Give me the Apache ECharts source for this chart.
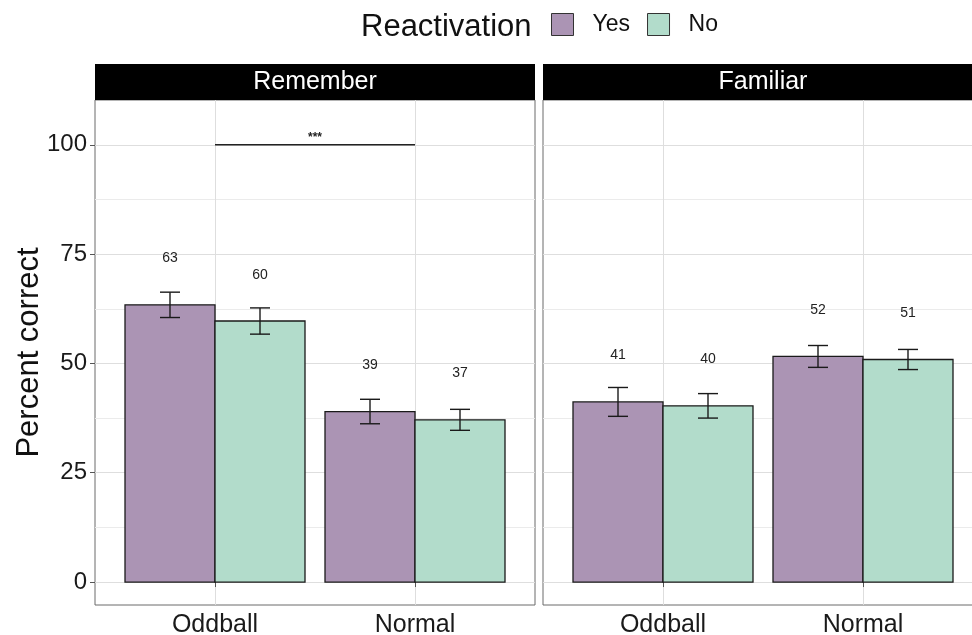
<!DOCTYPE html>
<html>
<head>
<meta charset="utf-8">
<script src="https://cdn.jsdelivr.net/npm/echarts@6/dist/echarts.min.js"></script>
<style>
  html, body { margin: 0; padding: 0; background: #ffffff; }
  #chart { width: 972px; height: 635px; }
</style>
</head>
<body>
<div id="chart"></div>
<script>
// Facets, conditions and reactivation groups
const panels = ['Remember', 'Familiar'];
const conditions = ['Oddball', 'Normal'];
const groups = ['Yes', 'No'];

// Mean percent correct per condition (Oddball, Normal)
const rememberYes = [63.4, 39.0];
const rememberNo = [59.7, 37.1];
const familiarYes = [41.2, 51.6];
const familiarNo = [40.3, 50.9];

// Standard errors of the means
const rememberYesSE = [2.9, 2.8];
const rememberNoSE = [3.0, 2.4];
const familiarYesSE = [3.3, 2.5];
const familiarNoSE = [2.8, 2.3];

// Axis ticks
const yTicks = [0, 25, 50, 75, 100];
const yMinorTicks = [12.5, 37.5, 62.5, 87.5];

// Significance bracket in the Remember panel
const sigPair = ['Oddball', 'Normal'];
const sigLevel = 100;
const sigText = '***';

const FONT = '"Liberation Sans", Arial, Helvetica, sans-serif';
const colors = { Yes: '#ab94b4', No: '#b2dccb' };
const panelData = [
  { Yes: rememberYes, No: rememberNo, YesSE: rememberYesSE, NoSE: rememberNoSE },
  { Yes: familiarYes, No: familiarNo, YesSE: familiarYesSE, NoSE: familiarNoSE }
];
const BAR_W = 0.45;      // width of one dodged bar, in category units
const CAP = 0.05;        // half width of error bar caps
const LABEL_LIFT = 10.6; // value labels sit above each mean

const PANEL_TOP = 100, PANEL_H = 505, PANEL_W = 440;
const panelLeft = [95, 543];

function barSeries(p, group, gi) {
  const means = panelData[p][group];
  const ses = panelData[p][group + 'SE'];
  const dodge = (gi - 0.5) * BAR_W;
  return {
    type: 'custom',
    name: group,
    xAxisIndex: p,
    yAxisIndex: p * 2,
    itemStyle: { color: colors[group] },
    data: conditions.map((c, i) => [i + 1, means[i], ses[i]]),
    renderItem(params, api) {
      const x = api.value(0) + dodge;
      const v = api.value(1);
      const se = api.value(2);
      const tl = api.coord([x - BAR_W / 2, v]);
      const br = api.coord([x + BAR_W / 2, 0]);
      const up = api.coord([x, v + se]);
      const lo = api.coord([x, v - se]);
      const capL = api.coord([x - CAP, v])[0];
      const capR = api.coord([x + CAP, v])[0];
      const lab = api.coord([x, v + LABEL_LIFT]);
      const err = { stroke: '#1a1a1a', lineWidth: 1.4 };
      return {
        type: 'group',
        children: [
          { type: 'rect', shape: { x: tl[0], y: tl[1], width: br[0] - tl[0], height: br[1] - tl[1] },
            style: { fill: colors[group], stroke: '#1a1a1a', lineWidth: 1.3 } },
          { type: 'line', shape: { x1: up[0], y1: up[1], x2: lo[0], y2: lo[1] }, style: err },
          { type: 'line', shape: { x1: capL, y1: up[1], x2: capR, y2: up[1] }, style: err },
          { type: 'line', shape: { x1: capL, y1: lo[1], x2: capR, y2: lo[1] }, style: err },
          { type: 'text', style: { x: lab[0], y: lab[1], text: String(Math.round(v)), fill: '#222',
              font: '14px ' + FONT, align: 'center', verticalAlign: 'middle' } }
        ]
      };
    }
  };
}

const series = [];
panels.forEach((name, p) => groups.forEach((g, gi) => series.push(barSeries(p, g, gi))));

// Bracket with stars between the two Remember conditions
series.push({
  type: 'custom',
  xAxisIndex: 0,
  yAxisIndex: 0,
  silent: true,
  data: [[conditions.indexOf(sigPair[0]) + 1, conditions.indexOf(sigPair[1]) + 1, sigLevel]],
  renderItem(params, api) {
    const a = api.coord([api.value(0), api.value(2)]);
    const b = api.coord([api.value(1), api.value(2)]);
    return {
      type: 'group',
      children: [
        { type: 'line', shape: { x1: a[0], y1: a[1], x2: b[0], y2: b[1] }, style: { stroke: '#222', lineWidth: 1.5 } },
        { type: 'text', style: { x: (a[0] + b[0]) / 2, y: a[1] - 7, text: sigText, fill: '#222',
            font: 'bold 12px ' + FONT, align: 'center', verticalAlign: 'middle' } }
      ]
    };
  }
});

const grids = panelLeft.map(l => ({
  left: l, top: PANEL_TOP, width: PANEL_W, height: PANEL_H,
  show: true, borderColor: '#6a6a6a', borderWidth: 1, backgroundColor: 'transparent',
  outerBoundsMode: 'none', containLabel: false
}));

const xAxes = panels.map((n, p) => ({
  type: 'value', gridIndex: p, min: 0.4, max: 2.6,
  axisLine: { show: false },
  axisTick: { show: true, length: 5, lineStyle: { color: '#555' }, customValues: [1, 2] },
  axisLabel: { customValues: [1, 2], formatter: v => conditions[Math.round(v) - 1],
    fontSize: 25, fontFamily: FONT, color: '#1a1a1a', margin: 8 },
  splitLine: { show: true, lineStyle: { color: '#dedede', width: 1 } }
}));

const yAxes = [];
panels.forEach((n, p) => {
  yAxes.push({
    type: 'value', gridIndex: p, min: -5.25, max: 110.25,
    name: p === 0 ? 'Percent correct' : '',
    nameLocation: 'middle', nameGap: 50, nameMoveOverlap: false,
    nameTextStyle: { fontSize: 31, fontFamily: FONT, color: '#111' },
    axisLine: { show: false },
    axisTick: { show: p === 0, length: 5, lineStyle: { color: '#555' }, customValues: yTicks },
    axisLabel: { show: p === 0, customValues: yTicks, fontSize: 24, fontFamily: FONT, color: '#1a1a1a', margin: 8 },
    splitLine: { show: true, lineStyle: { color: '#dedede', width: 1 } }
  });
  yAxes.push({
    type: 'value', gridIndex: p, min: -5.25, max: 110.25,
    axisLine: { show: false },
    axisTick: { show: false, customValues: yMinorTicks },
    axisLabel: { show: false, customValues: yMinorTicks },
    splitLine: { show: true, lineStyle: { color: '#ebebeb', width: 1 } }
  });
});

// Facet strips and legend title
const graphics = [];
panels.forEach((name, p) => {
  graphics.push({ type: 'rect', left: panelLeft[p], top: 64, shape: { width: PANEL_W, height: 36 },
    style: { fill: '#000' }, z: 10 });
  graphics.push({ type: 'text', x: panelLeft[p] + PANEL_W / 2, y: 82, z: 11,
    style: { text: name, fill: '#fff', font: '25px ' + FONT, align: 'center', verticalAlign: 'middle' } });
});
graphics.push({ type: 'text', x: 361, y: 27,
  style: { text: 'Reactivation', fill: '#111', font: '31px ' + FONT, align: 'left', verticalAlign: 'middle' } });

const chart = echarts.init(document.getElementById('chart'), null, { renderer: 'canvas' });
chart.setOption({
  animation: false,
  backgroundColor: '#ffffff',
  grid: grids,
  xAxis: xAxes,
  yAxis: yAxes,
  legend: {
    left: 546, top: 8,
    data: groups,
    icon: 'rect',
    itemWidth: 22, itemHeight: 22, itemGap: 17,
    itemStyle: { borderColor: '#333', borderWidth: 1 },
    textStyle: { fontSize: 23, fontFamily: FONT, color: '#111', padding: [0, 0, 0, 14] }
  },
  graphic: graphics,
  series: series
});
</script>
</body>
</html>
